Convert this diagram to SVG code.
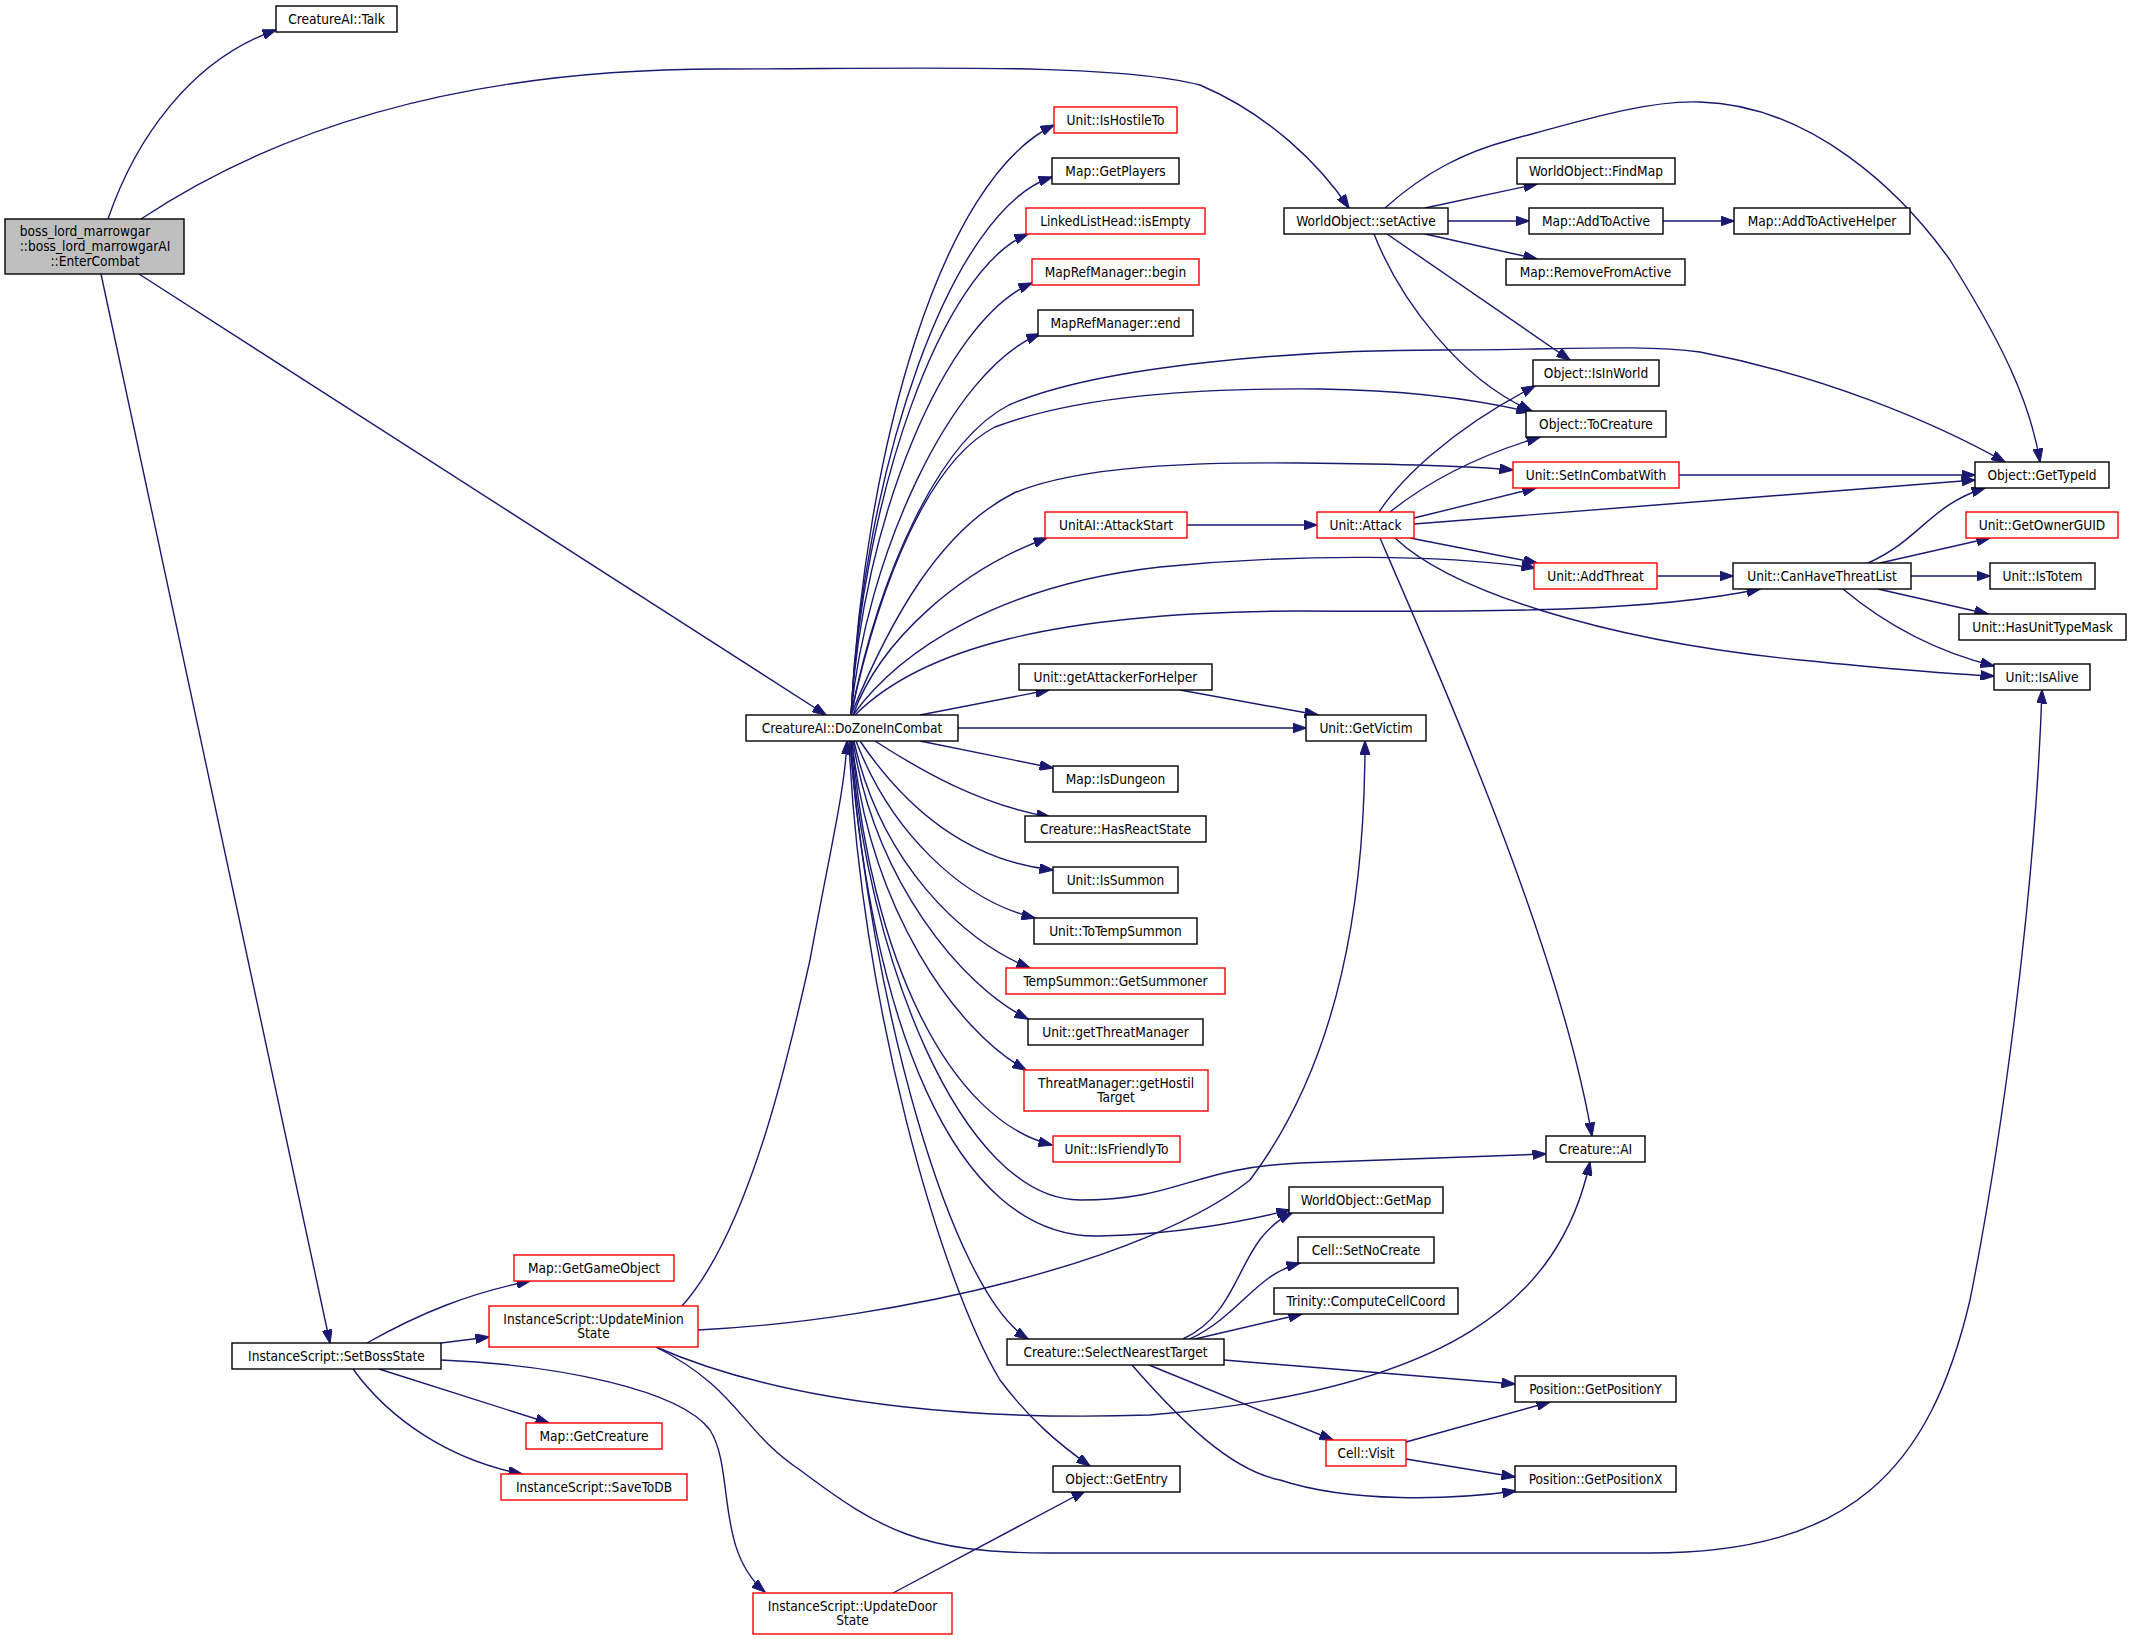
<svg xmlns="http://www.w3.org/2000/svg" width="2132" height="1639" viewBox="0 0 2132 1639">
<style>
.n rect{fill:#ffffff;stroke:#000000;stroke-width:1.4}
.n.r rect{stroke:#ff0000}
.n.root rect{fill:#bfbfbf}
.n text{font-family:"DejaVu Sans Condensed","DejaVu Sans",sans-serif;font-stretch:condensed;font-size:13.6px;text-anchor:middle;fill:#000000}
.e path{fill:none;stroke:#191970;stroke-width:1.4;marker-end:url(#a)}
</style>
<defs>
<marker id="a" markerUnits="userSpaceOnUse" markerWidth="14" markerHeight="10" viewBox="0 0 14 10" refX="13.5" refY="5" orient="auto">
<path d="M0,0 L14,5 L0,10 Z" fill="#191970" stroke="#191970" stroke-width="1"/>
</marker>
</defs>
<rect width="2132" height="1639" fill="#ffffff"/>
<g id="edges" class="e">
<path d="M108,219 C135,140 190,60 276,30"/>
<path d="M141,219 C290,120 480,69 720,69 C900,69 1110,62 1200,85 C1270,115 1320,165 1349,208"/>
<path d="M139,274 L826,715"/>
<path d="M101,274 L330,1343"/>
<path d="M1425,208 L1537,184"/>
<path d="M1448,221 L1529,221"/>
<path d="M1425,234 L1537,259"/>
<path d="M1385,208 C1425,172 1465,152 1510,140 C1590,118 1650,100 1700,102 C1810,105 1900,190 1950,260 C2000,340 2030,400 2040,462"/>
<path d="M1387,234 L1570,360"/>
<path d="M1374,234 C1400,300 1460,380 1532,411"/>
<path d="M1663,221 L1734,221"/>
<path d="M851,715 C865,450 940,180 1054,125"/>
<path d="M851,715 C863,470 950,210 1052,177"/>
<path d="M851,715 C862,500 940,270 1028,234"/>
<path d="M851,715 C862,520 945,320 1032,283"/>
<path d="M851,715 C865,560 950,370 1040,334"/>
<path d="M851,715 C880,570 940,440 1009,405 C1100,365 1300,350 1440,350 C1560,350 1640,344 1700,352 C1820,375 1930,420 2005,462"/>
<path d="M851,715 C880,580 930,460 995,427 C1080,395 1200,388 1320,389 C1400,390 1470,398 1530,412"/>
<path d="M851,715 C890,620 940,530 1014,493 C1080,465 1200,462 1300,463 C1400,464 1470,466 1513,470"/>
<path d="M853,715 C880,640 960,570 1047,538"/>
<path d="M853,715 C900,650 1000,585 1160,567 C1300,553 1450,555 1535,568"/>
<path d="M855,715 C920,650 1050,612 1300,611 C1500,612 1650,612 1760,589"/>
<path d="M920,715 L1049,690"/>
<path d="M958,728 L1306,728"/>
<path d="M920,741 L1053,768"/>
<path d="M875,741 C920,770 980,805 1050,817"/>
<path d="M860,741 C900,800 960,860 1053,870"/>
<path d="M856,741 C890,830 960,900 1035,918"/>
<path d="M854,741 C880,860 960,940 1030,968"/>
<path d="M853,741 C875,880 960,985 1028,1019"/>
<path d="M852,741 C870,910 955,1030 1026,1070"/>
<path d="M852,741 C870,960 950,1120 1052,1145"/>
<path d="M851,741 C865,950 960,1200 1080,1200 C1180,1200 1190,1168 1300,1163 C1400,1159 1480,1157 1546,1154"/>
<path d="M850,741 C870,1010 950,1240 1100,1236 C1180,1234 1240,1222 1290,1210"/>
<path d="M850,741 C870,1000 950,1290 1028,1339"/>
<path d="M849,741 C860,1000 940,1280 1000,1380 C1030,1420 1060,1445 1090,1466"/>
<path d="M1187,525 L1317,525"/>
<path d="M1379,512 C1400,480 1450,430 1535,386"/>
<path d="M1390,512 C1430,480 1480,455 1540,437"/>
<path d="M1414,518 L1536,488"/>
<path d="M1414,524 L1975,480"/>
<path d="M1410,538 L1537,563"/>
<path d="M1395,538 C1450,590 1600,640 1800,660 C1900,670 1950,674 1994,676"/>
<path d="M1380,538 C1450,700 1560,950 1592,1136"/>
<path d="M1679,475 L1975,475"/>
<path d="M1657,576 L1733,576"/>
<path d="M1868,563 C1920,540 1930,505 1985,488"/>
<path d="M1880,563 L1990,538"/>
<path d="M1911,576 L1990,576"/>
<path d="M1878,589 L1988,614"/>
<path d="M1843,589 C1880,620 1930,650 1994,666"/>
<path d="M1180,690 L1318,715"/>
<path d="M698,1330 C900,1320 1150,1260 1250,1180 C1340,1060 1365,900 1365,741"/>
<path d="M1183,1339 C1245,1310 1235,1240 1292,1213"/>
<path d="M1190,1339 C1240,1315 1255,1275 1300,1263"/>
<path d="M1195,1339 L1302,1314"/>
<path d="M1224,1360 L1515,1384"/>
<path d="M1149,1365 L1333,1440"/>
<path d="M1132,1365 C1180,1420 1230,1470 1280,1480 C1350,1503 1450,1500 1516,1491"/>
<path d="M1406,1442 L1550,1402"/>
<path d="M1406,1459 L1515,1477"/>
<path d="M682,1306 C750,1230 790,1050 810,960 C830,850 845,790 847,741"/>
<path d="M656,1347 C800,1410 1000,1420 1150,1415 C1450,1390 1560,1300 1590,1162"/>
<path d="M656,1347 C740,1390 740,1430 800,1470 C880,1530 920,1553 1050,1553 L1650,1553 C1850,1553 1930,1470 1970,1300 C2000,1150 2035,900 2042,690"/>
<path d="M367,1343 C420,1313 470,1293 530,1281"/>
<path d="M441,1343 L489,1337"/>
<path d="M379,1369 L549,1423"/>
<path d="M353,1369 C390,1420 450,1460 522,1474"/>
<path d="M441,1360 C560,1365 680,1390 710,1430 C735,1470 715,1550 765,1592"/>
<path d="M893,1593 L1085,1491"/>
</g>
<g id="n_root" class="n root"><rect x="5" y="219" width="179" height="55"/><text x="85" y="236">boss_lord_marrowgar</text><text x="95" y="251">::boss_lord_marrowgarAI</text><text x="95" y="266">::EnterCombat</text></g>
<g id="n_talk" class="n"><rect x="276" y="6" width="121" height="26"/><text x="336.5" y="24">CreatureAI::Talk</text></g>
<g id="n_setActive" class="n"><rect x="1284" y="208" width="164" height="26"/><text x="1366" y="226">WorldObject::setActive</text></g>
<g id="n_findMap" class="n"><rect x="1517" y="158" width="158" height="26"/><text x="1596" y="176">WorldObject::FindMap</text></g>
<g id="n_addToActive" class="n"><rect x="1529" y="208" width="134" height="26"/><text x="1596" y="226">Map::AddToActive</text></g>
<g id="n_addToActiveHelper" class="n"><rect x="1734" y="208" width="176" height="26"/><text x="1822" y="226">Map::AddToActiveHelper</text></g>
<g id="n_removeFromActive" class="n"><rect x="1506" y="259" width="179" height="26"/><text x="1595.5" y="277">Map::RemoveFromActive</text></g>
<g id="n_isInWorld" class="n"><rect x="1533" y="360" width="126" height="26"/><text x="1596" y="378">Object::IsInWorld</text></g>
<g id="n_toCreature" class="n"><rect x="1526" y="411" width="140" height="26"/><text x="1596" y="429">Object::ToCreature</text></g>
<g id="n_setInCombatWith" class="n r"><rect x="1513" y="462" width="166" height="26"/><text x="1596" y="480">Unit::SetInCombatWith</text></g>
<g id="n_getTypeId" class="n"><rect x="1975" y="462" width="134" height="26"/><text x="2042" y="480">Object::GetTypeId</text></g>
<g id="n_getOwnerGUID" class="n r"><rect x="1966" y="512" width="152" height="26"/><text x="2042" y="530">Unit::GetOwnerGUID</text></g>
<g id="n_isHostileTo" class="n r"><rect x="1054" y="107" width="123" height="26"/><text x="1115.5" y="125">Unit::IsHostileTo</text></g>
<g id="n_getPlayers" class="n"><rect x="1052" y="158" width="127" height="26"/><text x="1115.5" y="176">Map::GetPlayers</text></g>
<g id="n_isEmpty" class="n r"><rect x="1026" y="208" width="179" height="26"/><text x="1115.5" y="226">LinkedListHead::isEmpty</text></g>
<g id="n_begin" class="n r"><rect x="1032" y="259" width="167" height="26"/><text x="1115.5" y="277">MapRefManager::begin</text></g>
<g id="n_end" class="n"><rect x="1038" y="310" width="155" height="26"/><text x="1115.5" y="328">MapRefManager::end</text></g>
<g id="n_attackStart" class="n r"><rect x="1045" y="512" width="142" height="26"/><text x="1116" y="530">UnitAI::AttackStart</text></g>
<g id="n_attack" class="n r"><rect x="1317" y="512" width="97" height="26"/><text x="1365.5" y="530">Unit::Attack</text></g>
<g id="n_addThreat" class="n r"><rect x="1534" y="563" width="123" height="26"/><text x="1595.5" y="581">Unit::AddThreat</text></g>
<g id="n_canHaveThreatList" class="n"><rect x="1733" y="563" width="178" height="26"/><text x="1822" y="581">Unit::CanHaveThreatList</text></g>
<g id="n_isTotem" class="n"><rect x="1990" y="563" width="105" height="26"/><text x="2042.5" y="581">Unit::IsTotem</text></g>
<g id="n_hasUnitTypeMask" class="n"><rect x="1959" y="614" width="167" height="26"/><text x="2042.5" y="632">Unit::HasUnitTypeMask</text></g>
<g id="n_getAttackerForHelper" class="n"><rect x="1019" y="664" width="193" height="26"/><text x="1115.5" y="682">Unit::getAttackerForHelper</text></g>
<g id="n_isAlive" class="n"><rect x="1994" y="664" width="96" height="26"/><text x="2042" y="682">Unit::IsAlive</text></g>
<g id="n_doZoneInCombat" class="n"><rect x="746" y="715" width="212" height="26"/><text x="852" y="733">CreatureAI::DoZoneInCombat</text></g>
<g id="n_getVictim" class="n"><rect x="1306" y="715" width="120" height="26"/><text x="1366" y="733">Unit::GetVictim</text></g>
<g id="n_isDungeon" class="n"><rect x="1053" y="766" width="125" height="26"/><text x="1115.5" y="784">Map::IsDungeon</text></g>
<g id="n_hasReactState" class="n"><rect x="1025" y="816" width="181" height="26"/><text x="1115.5" y="834">Creature::HasReactState</text></g>
<g id="n_isSummon" class="n"><rect x="1053" y="867" width="125" height="26"/><text x="1115.5" y="885">Unit::IsSummon</text></g>
<g id="n_toTempSummon" class="n"><rect x="1034" y="918" width="163" height="26"/><text x="1115.5" y="936">Unit::ToTempSummon</text></g>
<g id="n_getSummoner" class="n r"><rect x="1006" y="968" width="219" height="26"/><text x="1115.5" y="986">TempSummon::GetSummoner</text></g>
<g id="n_getThreatManager" class="n"><rect x="1028" y="1019" width="175" height="26"/><text x="1115.5" y="1037">Unit::getThreatManager</text></g>
<g id="n_getHostilTarget" class="n r"><rect x="1024" y="1070" width="184" height="41"/><text x="1116" y="1087.5">ThreatManager::getHostil</text><text x="1116" y="1101.5">Target</text></g>
<g id="n_isFriendlyTo" class="n r"><rect x="1053" y="1136" width="127" height="26"/><text x="1116.5" y="1154">Unit::IsFriendlyTo</text></g>
<g id="n_creatureAI" class="n"><rect x="1546" y="1136" width="99" height="26"/><text x="1595.5" y="1154">Creature::AI</text></g>
<g id="n_getMap" class="n"><rect x="1289" y="1187" width="154" height="26"/><text x="1366" y="1205">WorldObject::GetMap</text></g>
<g id="n_setNoCreate" class="n"><rect x="1298" y="1237" width="136" height="26"/><text x="1366" y="1255">Cell::SetNoCreate</text></g>
<g id="n_computeCellCoord" class="n"><rect x="1274" y="1288" width="184" height="26"/><text x="1366" y="1306">Trinity::ComputeCellCoord</text></g>
<g id="n_selectNearestTarget" class="n"><rect x="1007" y="1339" width="217" height="26"/><text x="1115.5" y="1357">Creature::SelectNearestTarget</text></g>
<g id="n_getPositionY" class="n"><rect x="1515" y="1376" width="161" height="26"/><text x="1595.5" y="1394">Position::GetPositionY</text></g>
<g id="n_visit" class="n r"><rect x="1326" y="1440" width="80" height="26"/><text x="1366" y="1458">Cell::Visit</text></g>
<g id="n_getEntry" class="n"><rect x="1053" y="1466" width="127" height="26"/><text x="1116.5" y="1484">Object::GetEntry</text></g>
<g id="n_getPositionX" class="n"><rect x="1515" y="1466" width="161" height="26"/><text x="1595.5" y="1484">Position::GetPositionX</text></g>
<g id="n_getGameObject" class="n r"><rect x="514" y="1255" width="160" height="26"/><text x="594" y="1273">Map::GetGameObject</text></g>
<g id="n_updateMinionState" class="n r"><rect x="489" y="1306" width="209" height="41"/><text x="593.5" y="1323.5">InstanceScript::UpdateMinion</text><text x="593.5" y="1337.5">State</text></g>
<g id="n_setBossState" class="n"><rect x="232" y="1343" width="209" height="26"/><text x="336.5" y="1361">InstanceScript::SetBossState</text></g>
<g id="n_getCreature" class="n r"><rect x="526" y="1423" width="136" height="26"/><text x="594" y="1441">Map::GetCreature</text></g>
<g id="n_saveToDB" class="n r"><rect x="501" y="1474" width="186" height="26"/><text x="594" y="1492">InstanceScript::SaveToDB</text></g>
<g id="n_updateDoorState" class="n r"><rect x="753" y="1593" width="199" height="41"/><text x="852.5" y="1610.5">InstanceScript::UpdateDoor</text><text x="852.5" y="1624.5">State</text></g>
</svg>
